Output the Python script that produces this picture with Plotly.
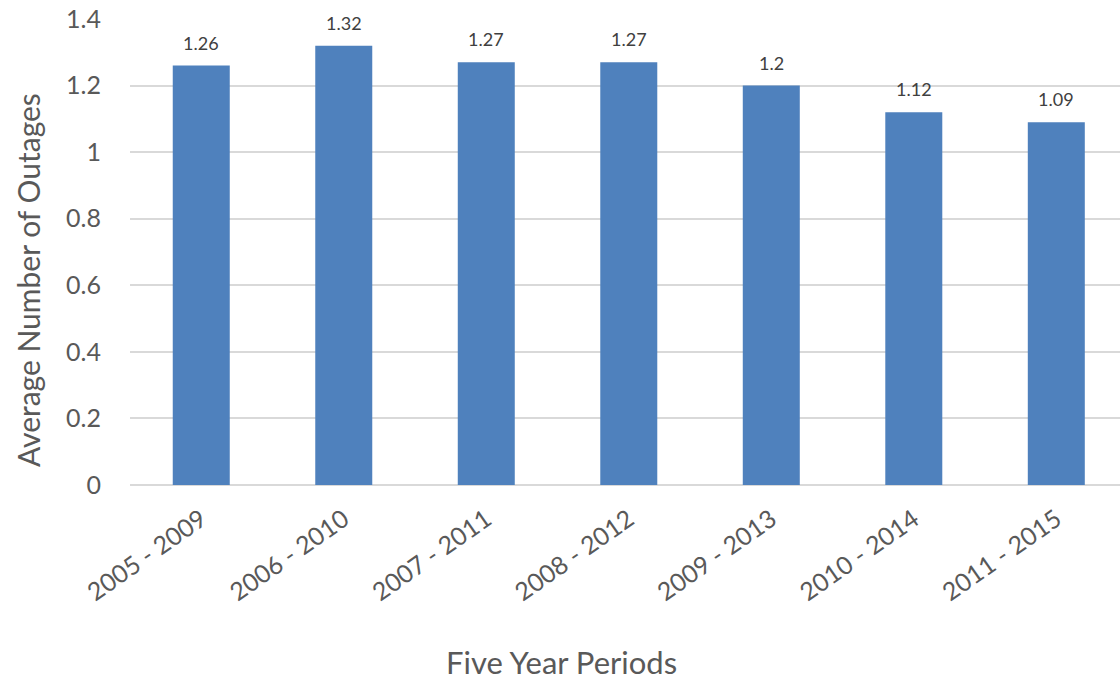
import plotly.graph_objects as go

periods = ["2005 - 2009", "2006 - 2010", "2007 - 2011", "2008 - 2012",
           "2009 - 2013", "2010 - 2014", "2011 - 2015"]
avg_outages = [1.26, 1.32, 1.27, 1.27, 1.2, 1.12, 1.09]
y_ticks = [0, 0.2, 0.4, 0.6, 0.8, 1.0, 1.2, 1.4]
y_tick_text = ["0", "0.2", "0.4", "0.6", "0.8", "1", "1.2", "1.4"]

font_family = "Lato, Open Sans, sans-serif"
text_grey = "#595959"

fig = go.Figure(go.Bar(
    x=periods,
    y=avg_outages,
    width=0.4,
    marker=dict(color="#4F81BD", line=dict(width=0)),
))

# value labels above each bar
for p, v in zip(periods, avg_outages):
    fig.add_annotation(
        x=p, y=v, text=f"{v:g}", showarrow=False,
        yanchor="bottom", yshift=10,
        font=dict(family=font_family, size=18, color="#404040"),
    )

fig.update_layout(
    width=1120, height=681,
    margin=dict(l=130, r=0, t=19, b=196),
    plot_bgcolor="white", paper_bgcolor="white",
    showlegend=False,
    font=dict(family=font_family, color=text_grey),
    xaxis=dict(
        range=[-0.5, 6.447],
        tickangle=-35,
        tickfont=dict(size=25, color=text_grey),
        showgrid=False,
        showline=False,
        ticks="",
        ticklabelstandoff=14,
    ),
    yaxis=dict(
        range=[0, 1.4],
        tickvals=y_ticks,
        ticktext=y_tick_text,
        tickfont=dict(size=25, color=text_grey),
        showgrid=True,
        gridcolor="#D9D9D9",
        gridwidth=1.5,
        zeroline=True,
        zerolinecolor="#D9D9D9",
        zerolinewidth=2,
        showline=False,
        ticks="",
        ticklabelstandoff=28,
    ),
    annotations=list(fig.layout.annotations) + [
        dict(text="Five Year Periods", xref="paper", yref="paper",
             x=(561 - 130) / 990, y=(681 - 662 - 196) / (681 - 19 - 196),
             xanchor="center", yanchor="middle", showarrow=False,
             font=dict(family=font_family, size=31, color=text_grey)),
        dict(text="Average Number of Outages", xref="paper", yref="paper",
             x=(28 - 130) / 990, y=(485 - 280) / (485 - 19),
             xanchor="center", yanchor="middle", textangle=-90, showarrow=False,
             font=dict(family=font_family, size=30, color=text_grey)),
    ],
)

fig.write_html("out.html")
